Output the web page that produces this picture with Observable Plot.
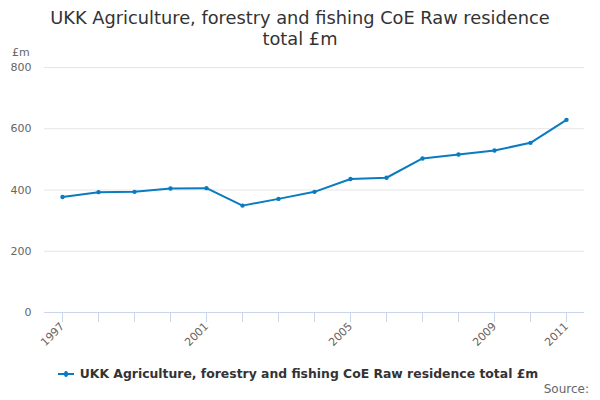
<!DOCTYPE html>
<html>
<head>
<meta charset="utf-8">
<script src="https://cdn.jsdelivr.net/npm/d3@7"></script>
<script src="https://cdn.jsdelivr.net/npm/@observablehq/plot@0.6"></script>
<style>
  body { margin: 0; background: #fff; font-family: "DejaVu Sans", sans-serif; }
  #wrap { position: relative; width: 600px; height: 400px; overflow: hidden; }
  #title { position: absolute; left: 0; top: 7px; width: 600px; text-align: center; font-size: 17.8px; line-height: 21px; color: #333; }
  #unit { position: absolute; left: 12px; top: 46px; font-size: 11px; color: #666; }
  #chart { position: absolute; left: 0; top: 0; }
  #legend { position: absolute; left: -2px; top: 366px; width: 600px; text-align: center; font-size: 12.4px; font-weight: bold; color: #333; white-space: nowrap; }
  #legend .sw { display: inline-block; position: relative; width: 16px; height: 2px; background: #0a7bc1; vertical-align: middle; margin-right: 6px; top: -1px; }
  #legend .sw::after { content: ""; position: absolute; left: 6px; top: -2px; width: 4px; height: 6px; border-radius: 50%; background: #0a7bc1; }
  #source { position: absolute; right: 11px; top: 382px; font-size: 12px; color: #666; }
</style>
</head>
<body>
<div id="wrap">
  <div id="chart"></div>
  <div id="title">UKK Agriculture, forestry and fishing CoE Raw residence<br>total £m</div>
  <div id="unit">£m</div>
  <div id="legend"><span class="sw"></span>UKK Agriculture, forestry and fishing CoE Raw residence total £m</div>
  <div id="source">Source:</div>
</div>
<script>
const years = [1997, 1998, 1999, 2000, 2001, 2002, 2003, 2004, 2005, 2006, 2007, 2008, 2009, 2010, 2011];
const values = [377, 393, 394, 405, 406, 349, 371, 394, 436, 440, 503, 516, 529, 554, 629];
const labelYears = [1997, 2001, 2005, 2009, 2011];
const yTicks = [0, 200, 400, 600, 800];
const lineColor = "#0a7bc1";

const data = years.map((year, i) => ({year, value: values[i]}));

const chart = Plot.plot({
  width: 600,
  height: 400,
  marginTop: 67,
  marginBottom: 88,
  marginLeft: 44,
  marginRight: 16,
  style: {fontFamily: "DejaVu Sans, sans-serif", background: "transparent"},
  x: {type: "linear", domain: [years[0] - 0.5, years[years.length - 1] + 0.5]},
  y: {domain: [0, 800]},
  marks: [
    Plot.gridY(yTicks.slice(1), {stroke: "#e6e6e6", strokeOpacity: 1}),
    Plot.ruleY([0], {stroke: "#ccd6eb"}),
    Plot.axisX(years, {tickSize: 10, stroke: "#ccd6eb", strokeOpacity: 1, tickFormat: () => "", label: null}),
    Plot.axisX(labelYears, {tickSize: 0, tickPadding: 12, tickRotate: -45, fill: "#666", fontSize: 11, tickFormat: d => String(d), label: null}),
    Plot.axisY(yTicks, {tickSize: 0, tickPadding: 13, fill: "#666", fontSize: 11, label: null}),
    Plot.line(data, {x: "year", y: "value", stroke: lineColor, strokeWidth: 2}),
    Plot.dot(data, {x: "year", y: "value", r: 2.2, fill: lineColor})
  ]
});
document.getElementById("chart").appendChild(chart);
</script>
</body>
</html>
